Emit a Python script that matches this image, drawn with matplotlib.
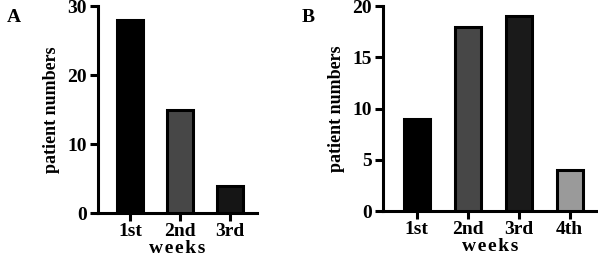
import matplotlib
matplotlib.use("Agg")
import matplotlib.pyplot as plt

# ====== DATA ======
weeks_a = ["1st", "2nd", "3rd"]
patients_a = [28, 15, 4]
colors_a = ["#000000", "#474747", "#151515"]

weeks_b = ["1st", "2nd", "3rd", "4th"]
patients_b = [9, 18, 19, 4]
colors_b = ["#000000", "#474747", "#1a1a1a", "#9a9a9a"]

plt.rcParams["font.family"] = ["Liberation Serif", "DejaVu Serif"]
plt.rcParams["font.weight"] = "bold"


def draw_panel(ax, labels, values, colors, ymax, yticks, xlim):
    x = list(range(len(labels)))
    ax.bar(x, values, width=0.52, color=colors, edgecolor="black", linewidth=2.2, zorder=3)
    ax.set_xticks(x)
    ax.set_xticklabels(labels, fontsize=14, fontweight="bold")
    ax.set_yticks(yticks)
    ax.set_yticklabels([str(t) for t in yticks], fontsize=14, fontweight="bold")
    ax.set_ylim(0, ymax)
    ax.set_xlim(*xlim)
    ax.spines["top"].set_visible(False)
    ax.spines["right"].set_visible(False)
    ax.spines["left"].set_linewidth(2.2)
    ax.spines["bottom"].set_linewidth(2.2)
    ax.tick_params(axis="both", direction="out", length=6, width=2.2, pad=2)
    ax.tick_params(axis="x", pad=1)
    ax.set_ylabel("patient numbers", fontsize=13, fontweight="bold", labelpad=5)
    ax.set_xlabel("w\u200ae\u200ae\u200ak\u200as", fontsize=14, fontweight="bold", labelpad=0)


fig = plt.figure(figsize=(5.98, 2.65), dpi=100)
ax_a = fig.add_axes([0.164, 0.195, 0.266, 0.782])
ax_b = fig.add_axes([0.640, 0.203, 0.358, 0.774])

draw_panel(ax_a, weeks_a, patients_a, colors_a, 30, [0, 10, 20, 30], (-0.64, 2.54))
draw_panel(ax_b, weeks_b, patients_b, colors_b, 20, [0, 5, 10, 15, 20], (-0.67, 3.53))

fig.text(0.012, 0.935, "A", fontsize=14, fontweight="bold", va="center")
fig.text(0.505, 0.935, "B", fontsize=14, fontweight="bold", va="center")

fig.savefig("out.png", dpi=100)
